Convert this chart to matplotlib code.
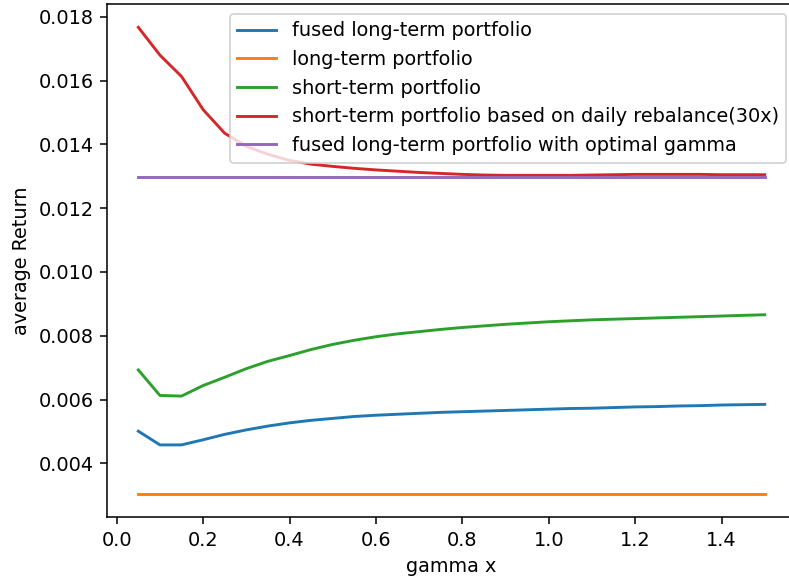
import numpy as np
import matplotlib
matplotlib.use("Agg")
import matplotlib.pyplot as plt

gamma = np.round(np.arange(1, 31) * 0.05, 2)

fused_long = [0.00501, 0.00458, 0.00458, 0.00474, 0.00491, 0.00505, 0.00517, 0.00527,
              0.00535, 0.00541, 0.00547, 0.00551, 0.00554, 0.00557, 0.00560, 0.00562,
              0.00564, 0.00566, 0.00568, 0.00570, 0.00572, 0.00573, 0.00575, 0.00577,
              0.00578, 0.00580, 0.00581, 0.00583, 0.00584, 0.00585]
long_term = [0.00305] * 30
short_term = [0.00693, 0.00613, 0.00611, 0.00644, 0.00670, 0.00697, 0.00720, 0.00738,
              0.00757, 0.00773, 0.00786, 0.00797, 0.00806, 0.00813, 0.00820, 0.00826,
              0.00831, 0.00836, 0.00840, 0.00844, 0.00847, 0.00850, 0.00852, 0.00854,
              0.00856, 0.00858, 0.00860, 0.00862, 0.00864, 0.00866]
short_daily = [0.01767, 0.01680, 0.01613, 0.01509, 0.01435, 0.01394, 0.01369, 0.01350,
               0.01338, 0.01331, 0.01325, 0.01320, 0.01316, 0.01312, 0.01309, 0.01306,
               0.01304, 0.01303, 0.01303, 0.01303, 0.01303, 0.01304, 0.01305, 0.01306,
               0.01306, 0.01306, 0.01306, 0.01305, 0.01305, 0.01305]
fused_optimal = [0.01298] * 30

labels = ["fused long-term portfolio",
          "long-term portfolio",
          "short-term portfolio",
          "short-term portfolio based on daily rebalance(30x)",
          "fused long-term portfolio with optimal gamma"]

dpi = 139
fig = plt.figure(figsize=(789 / dpi, 580 / dpi), dpi=dpi)
ax = fig.add_axes([0.1356, 0.1086, 0.8733, 0.8845])

for series, lab in zip([fused_long, long_term, short_term, short_daily, fused_optimal], labels):
    ax.plot(gamma, series, label=lab)

ax.set_xlabel("gamma x")
ax.set_ylabel("average Return")
ax.legend(loc="upper right")

fig.savefig("out.png", dpi=dpi)
